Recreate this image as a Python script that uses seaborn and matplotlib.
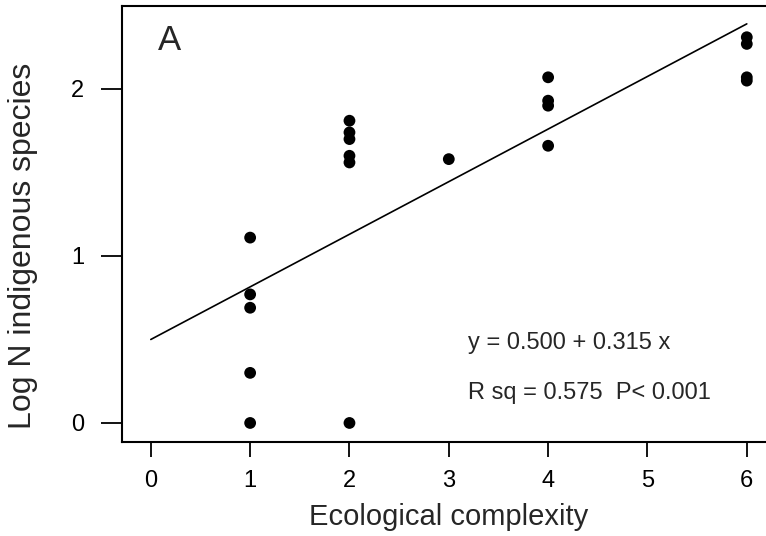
import matplotlib
matplotlib.use("Agg")
import matplotlib.pyplot as plt
import numpy as np
import pandas as pd
import seaborn as sns

# Ecological complexity score per site and log number of indigenous species
complexity = [1, 1, 1, 1, 1,
              2, 2, 2, 2, 2, 2,
              3,
              4, 4, 4, 4,
              6, 6, 6, 6]
log_species = [1.11, 0.77, 0.69, 0.30, 0.00,
               1.81, 1.74, 1.70, 1.60, 1.56, 0.00,
               1.58,
               2.07, 1.93, 1.90, 1.66,
               2.31, 2.27, 2.07, 2.05]

# Fitted linear regression
intercept = 0.500
slope = 0.315
r_sq = 0.575

x_ticks = [0, 1, 2, 3, 4, 5, 6]
y_ticks = [0, 1, 2]

sns.set_style("ticks")
plt.rcParams["font.family"] = ["Liberation Sans", "DejaVu Sans"]

W, H = 766, 536
fig = plt.figure(figsize=(W / 100, H / 100), dpi=100)
ax = fig.add_axes([122 / W, 94 / H, 653.6 / W, 436 / H])

df = pd.DataFrame({"complexity": complexity, "log_species": log_species})
sns.scatterplot(data=df, x="complexity", y="log_species", color="black",
                s=72, edgecolor="none", linewidth=0, ax=ax, zorder=3)

fit_x = np.array([min(x_ticks), max(x_ticks)], dtype=float)
fit_y = intercept + slope * fit_x
sns.lineplot(x=fit_x, y=fit_y, color="black", linewidth=1.2, ax=ax, zorder=2)

ax.set_xlim(-0.29, 6.29)
ax.set_ylim(-0.114, 2.497)
ax.set_xticks(x_ticks)
ax.set_yticks(y_ticks)
ax.set_xticklabels([str(t) for t in x_ticks])
ax.set_yticklabels([str(t) for t in y_ticks])

for side in ["top", "left", "bottom", "right"]:
    ax.spines[side].set_visible(True)
    ax.spines[side].set_linewidth(1.5)
    ax.spines[side].set_color("black")

ax.tick_params(axis="x", direction="out", length=11, width=1.3,
               labelsize=17, pad=9, colors="black")
ax.tick_params(axis="y", direction="out", length=15, width=1.3,
               labelsize=17, pad=12, colors="black")

ax.set_xlabel("Ecological complexity", fontsize=21, labelpad=8)
ax.set_ylabel("Log N indigenous species", fontsize=23)
ax.yaxis.set_label_coords(-0.128, 0.45)

ax.text(0.19, 2.29, "A", fontsize=25, ha="center", va="center")
ax.text(3.19, 0.479, f"y = {intercept:.3f} + {slope:.3f} x",
        fontsize=17, ha="left", va="center")
ax.text(3.19, 0.18, f"R sq = {r_sq:.3f}  P< 0.001",
        fontsize=17, ha="left", va="center")

fig.savefig("out.png", dpi=100)
